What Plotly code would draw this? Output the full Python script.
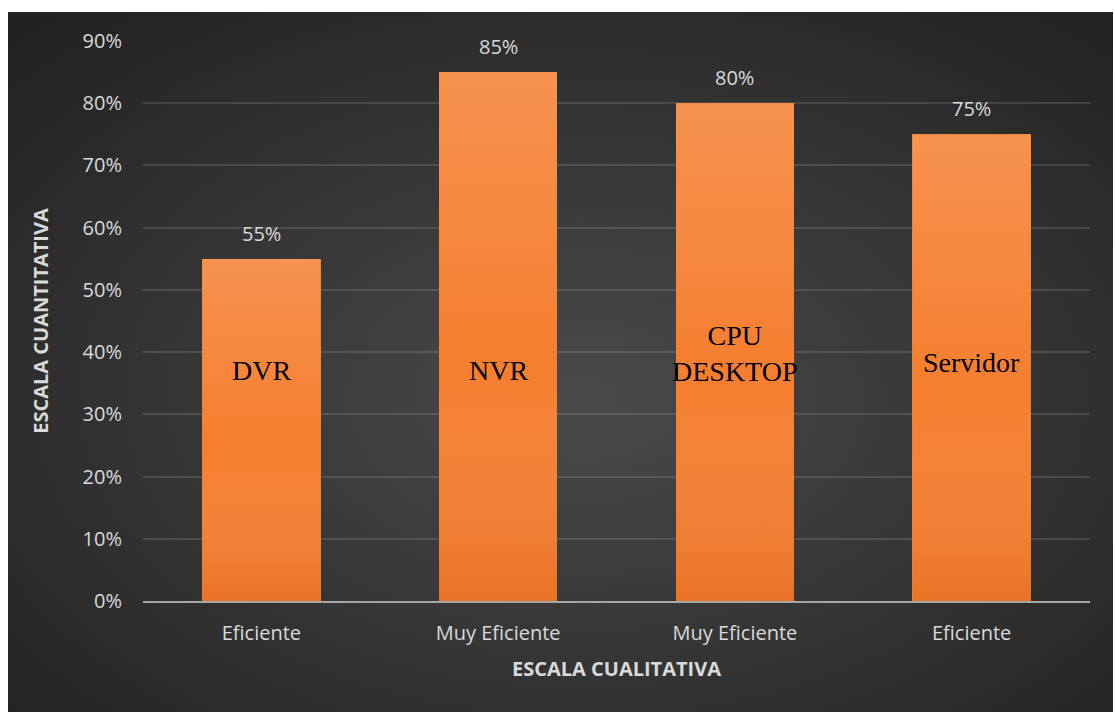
import base64
import plotly.graph_objects as go

# Chart data
positions = [0, 1, 2, 3]
quality = ["Eficiente", "Muy Eficiente", "Muy Eficiente", "Eficiente"]
scores = [0.55, 0.85, 0.80, 0.75]
devices = ["DVR", "NVR", "CPU<br>DESKTOP", "Servidor"]
device_label_y = [0.37, 0.37, 0.397, 0.384]
y_ticks = [0.0, 0.1, 0.2, 0.3, 0.4, 0.5, 0.6, 0.7, 0.8, 0.9]

W, H = 1115, 713
M_L, M_R, M_T, M_B = 143, 25, 41, 112
BAR_W = 0.5
plot_w = W - M_L - M_R
plot_h = H - M_T - M_B


def svg_uri(svg):
    return "data:image/svg+xml;base64," + base64.b64encode(svg.encode()).decode()


# dark radial backdrop
bg_svg = (
    '<svg xmlns="http://www.w3.org/2000/svg" width="1105" height="700" preserveAspectRatio="none">'
    '<defs><radialGradient id="g" cx="52%" cy="55%" r="72%">'
    '<stop offset="0%" stop-color="#4a4a4a"/>'
    '<stop offset="100%" stop-color="#222222"/>'
    '</radialGradient></defs>'
    '<rect width="1105" height="700" fill="url(#g)"/></svg>'
)

# soft light-to-dark sheen laid over each bar
bar_svg = (
    '<svg xmlns="http://www.w3.org/2000/svg" width="100" height="100" preserveAspectRatio="none">'
    '<defs><linearGradient id="b" x1="0" y1="0" x2="0" y2="1">'
    '<stop offset="0%" stop-color="#ffffff" stop-opacity="0.16"/>'
    '<stop offset="55%" stop-color="#ffffff" stop-opacity="0"/>'
    '<stop offset="100%" stop-color="#b84500" stop-opacity="0.2"/>'
    '</linearGradient></defs>'
    '<rect width="100" height="100" fill="url(#b)"/></svg>'
)

fig = go.Figure(
    go.Bar(
        x=positions,
        y=scores,
        width=BAR_W,
        marker=dict(color="#F57E2F", line=dict(width=0)),
        hoverinfo="skip",
    )
)

images = [
    dict(
        source=svg_uri(bg_svg),
        xref="paper", yref="paper",
        x=(8 - M_L) / plot_w, y=(H - M_B - 12) / plot_h,
        sizex=(1113 - 8) / plot_w, sizey=(712 - 12) / plot_h,
        xanchor="left", yanchor="top",
        sizing="stretch", layer="below",
    )
]
for x, v in zip(positions, scores):
    images.append(
        dict(
            source=svg_uri(bar_svg),
            xref="x", yref="y",
            x=x - BAR_W / 2, y=v, sizex=BAR_W, sizey=v,
            xanchor="left", yanchor="top",
            sizing="stretch", layer="above",
        )
    )

annotations = []
for x, v in zip(positions, scores):
    annotations.append(
        dict(
            x=x, y=v, xref="x", yref="y",
            text=f"{v:.0%}", showarrow=False,
            yanchor="bottom", yshift=10,
            font=dict(family="Open Sans", size=20, color="#D9D9D9"),
        )
    )
for x, name, ly in zip(positions, devices, device_label_y):
    annotations.append(
        dict(
            x=x, y=ly, xref="x", yref="y",
            text=name, showarrow=False, yanchor="middle",
            font=dict(family="Liberation Serif", size=28, color="#000000"),
        )
    )

fig.update_layout(
    width=W, height=H,
    margin=dict(l=M_L, r=M_R, t=M_T, b=M_B, autoexpand=False),
    paper_bgcolor="#ffffff",
    plot_bgcolor="rgba(0,0,0,0)",
    showlegend=False,
    images=images,
    annotations=annotations,
    bargap=0,
)

fig.update_xaxes(
    range=[-0.5, 3.5],
    tickmode="array", tickvals=positions, ticktext=quality,
    showgrid=False, zeroline=False,
    showline=True, linecolor="#A6A6A6", linewidth=2,
    ticks="", ticklabelstandoff=13,
    tickfont=dict(family="Open Sans", size=20, color="#D9D9D9"),
    title=dict(
        text="<b>ESCALA CUALITATIVA</b>", standoff=17,
        font=dict(family="Open Sans", size=20, color="#D9D9D9"),
    ),
)

fig.update_yaxes(
    range=[0, 0.9],
    tickmode="array", tickvals=y_ticks, tickformat=".0%",
    showgrid=True, gridcolor="rgba(255,255,255,0.12)", gridwidth=1.5,
    zeroline=False, showline=False,
    ticks="", ticklabelstandoff=20,
    tickfont=dict(family="Open Sans", size=20, color="#D9D9D9"),
    title=dict(
        text="<b>ESCALA CUANTITATIVA</b>", standoff=28,
        font=dict(family="Open Sans", size=20, color="#D9D9D9"),
    ),
)

fig.write_html("out.html")
